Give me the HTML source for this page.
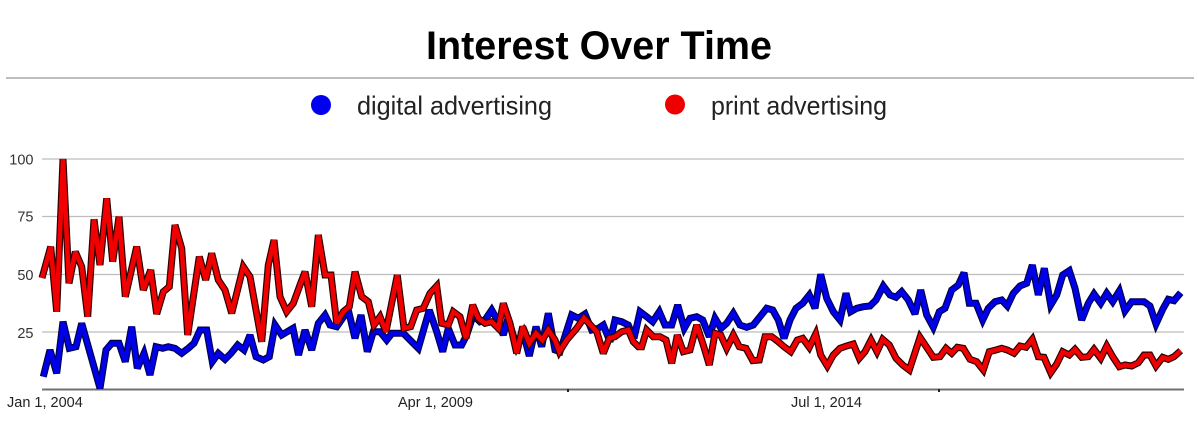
<!DOCTYPE html>
<html>
<head>
<meta charset="utf-8">
<style>
html,body{margin:0;padding:0;background:#fff;}
svg{display:block;}
text{font-family:"Liberation Sans",Arial,sans-serif;}
</style>
</head>
<body>
<svg width="1198" height="426" viewBox="0 0 1198 426" xmlns="http://www.w3.org/2000/svg">
<rect width="1198" height="426" fill="#fff"/>
<text x="599" y="59" text-anchor="middle" font-size="39.5" font-weight="bold" fill="#000" textLength="346" lengthAdjust="spacingAndGlyphs">Interest Over Time</text>
<line x1="6" y1="78" x2="1194" y2="78" stroke="#a8a8a8" stroke-width="1.5"/>
<circle cx="321" cy="105" r="10" fill="#0000ee"/>
<text x="357" y="114.3" font-size="26" fill="#222" textLength="195" lengthAdjust="spacingAndGlyphs">digital advertising</text>
<circle cx="675" cy="104.5" r="10" fill="#ee0000"/>
<text x="711" y="114.3" font-size="26" fill="#222" textLength="176" lengthAdjust="spacingAndGlyphs">print advertising</text>

<g stroke="#bdbdbd" stroke-width="1.3">
<line x1="42" y1="159" x2="1184" y2="159"/>
<line x1="42" y1="216.5" x2="1184" y2="216.5"/>
<line x1="42" y1="274.5" x2="1184" y2="274.5"/>
<line x1="42" y1="332" x2="1184" y2="332"/>
</g>
<line x1="42" y1="389.5" x2="1184" y2="389.5" stroke="#707070" stroke-width="2"/>
<rect x="567" y="389" width="2" height="3" fill="#222"/>
<rect x="938" y="389" width="2" height="3" fill="#222"/>

<g font-size="14.5" fill="#333" text-anchor="end">
<text x="33.5" y="164.3">100</text>
<text x="33.5" y="221.7">75</text>
<text x="33.5" y="280">50</text>
<text x="33.5" y="337.8">25</text>
</g>
<g font-size="14.5" fill="#222">
<text x="7" y="407">Jan 1, 2004</text>
<text x="398" y="407">Apr 1, 2009</text>
<text x="791" y="407">Jul 1, 2014</text>
</g>

<g fill="none" stroke-linejoin="miter" stroke-miterlimit="3">
<polyline stroke="#00004a" stroke-width="7" points="43.3,376.7 50,350 56.7,373.3 63,321.7 69.3,348.3 76,346.7 81.7,323.3 100,388.3 106,350 111.7,343.3 119,343.3 125.3,361.7 131.7,326.7 137.3,368.3 144,353.3 150,375 156,346.7 162.7,348.3 168.3,346.7 175,348.3 181.7,353.3 188.3,348.3 194,343.3 200,330 206.7,330 212.3,361.7 218.3,353.3 225,359.3 231,353.3 237.7,345 244,350 250,335 256,356.7 263.3,360 269.3,356.7 275,325 281.7,335 293,328.3 298.5,355 305,330 311.7,350 318.3,323.3 325,315 330,325 336.7,326.7 348.3,310 355,338.3 361,315 367.3,351.7 373.3,331.7 380,331.7 386.7,340 392,333.3 403.3,333.3 410,340 418.3,348.3 429.3,310 436.7,331.7 442.7,351.7 448.3,328.3 455,345 461.7,345 466.7,335 473.3,315 480,321.7 485,320 491.7,310 498.3,321.7 503.3,335 508,318 516.7,346.7 523.3,333.3 529.3,356 536,326.7 541.7,346.7 548.3,313.3 555,350 560,351.7 571.7,315 578.3,318.3 585,314 591.7,330 598.3,328.3 603.3,325 610,341.7 615,320 621.7,321.7 628.3,325 634,338.3 640,311.7 646.7,316.7 652.7,321.7 659.3,311.7 665,325 671.7,325 677.7,305 684.3,328.3 690,318.3 696.7,316.7 702.7,320 709.3,336.7 715,318.3 721,328.3 726.7,323.3 733.3,313.3 740,325 746.7,327.3 753.3,325 760,316.7 766.7,308.3 772.7,310 778.3,320 784,338.3 790,320 796,308.3 802.7,303.3 809.3,295 815,308.3 820.7,274.3 826.7,298.3 833.3,311.7 840,320 846,293.3 850.7,311.7 856.7,308.3 863.3,306.7 870,306 876,300 883.3,286 890,295 896,297.3 901.7,291.7 908.3,300 915,314 920.7,290 926.7,315 933.3,327.3 939.3,311.7 945,308.3 951.7,290 958.3,285 964,272.7 969.3,303.3 976,303.3 982.7,320 988.3,308.3 995,301.7 1001.7,300 1007.3,306 1013.3,293.3 1020,286 1026.7,283.3 1032.3,265 1038.3,295 1044.3,268.3 1050.7,305 1056.7,295 1062.7,275 1069.3,270.7 1075,288.3 1081.7,320 1088.3,303.3 1094,294 1100.7,303.3 1106.7,293.3 1112.7,301.7 1119.3,291 1125,311 1131.7,301.7 1144,301.7 1150,306 1156,324 1162.7,309.3 1168.3,299.3 1174,300.7 1180.7,292.7"/>
<polyline stroke="#0000e8" stroke-width="4.6" points="43.3,376.7 50,350 56.7,373.3 63,321.7 69.3,348.3 76,346.7 81.7,323.3 100,388.3 106,350 111.7,343.3 119,343.3 125.3,361.7 131.7,326.7 137.3,368.3 144,353.3 150,375 156,346.7 162.7,348.3 168.3,346.7 175,348.3 181.7,353.3 188.3,348.3 194,343.3 200,330 206.7,330 212.3,361.7 218.3,353.3 225,359.3 231,353.3 237.7,345 244,350 250,335 256,356.7 263.3,360 269.3,356.7 275,325 281.7,335 293,328.3 298.5,355 305,330 311.7,350 318.3,323.3 325,315 330,325 336.7,326.7 348.3,310 355,338.3 361,315 367.3,351.7 373.3,331.7 380,331.7 386.7,340 392,333.3 403.3,333.3 410,340 418.3,348.3 429.3,310 436.7,331.7 442.7,351.7 448.3,328.3 455,345 461.7,345 466.7,335 473.3,315 480,321.7 485,320 491.7,310 498.3,321.7 503.3,335 508,318 516.7,346.7 523.3,333.3 529.3,356 536,326.7 541.7,346.7 548.3,313.3 555,350 560,351.7 571.7,315 578.3,318.3 585,314 591.7,330 598.3,328.3 603.3,325 610,341.7 615,320 621.7,321.7 628.3,325 634,338.3 640,311.7 646.7,316.7 652.7,321.7 659.3,311.7 665,325 671.7,325 677.7,305 684.3,328.3 690,318.3 696.7,316.7 702.7,320 709.3,336.7 715,318.3 721,328.3 726.7,323.3 733.3,313.3 740,325 746.7,327.3 753.3,325 760,316.7 766.7,308.3 772.7,310 778.3,320 784,338.3 790,320 796,308.3 802.7,303.3 809.3,295 815,308.3 820.7,274.3 826.7,298.3 833.3,311.7 840,320 846,293.3 850.7,311.7 856.7,308.3 863.3,306.7 870,306 876,300 883.3,286 890,295 896,297.3 901.7,291.7 908.3,300 915,314 920.7,290 926.7,315 933.3,327.3 939.3,311.7 945,308.3 951.7,290 958.3,285 964,272.7 969.3,303.3 976,303.3 982.7,320 988.3,308.3 995,301.7 1001.7,300 1007.3,306 1013.3,293.3 1020,286 1026.7,283.3 1032.3,265 1038.3,295 1044.3,268.3 1050.7,305 1056.7,295 1062.7,275 1069.3,270.7 1075,288.3 1081.7,320 1088.3,303.3 1094,294 1100.7,303.3 1106.7,293.3 1112.7,301.7 1119.3,291 1125,311 1131.7,301.7 1144,301.7 1150,306 1156,324 1162.7,309.3 1168.3,299.3 1174,300.7 1180.7,292.7"/>

<polyline stroke="#2a0000" stroke-width="7" points="42,278 50.7,246.7 56.7,311.7 63,159 69,283.3 75.3,251.7 81.7,266.7 87.7,316.7 94,219.3 100,265 106.7,198.3 112.7,261.7 119,216.7 125.3,296.7 136.7,246.7 143.3,290 150.7,270 156.7,314 163.3,291.7 169.3,286.7 175,225 181.7,248.3 187.7,335 199.3,256.7 205.7,280 211.7,253.3 218.3,280 225,290 231.7,313.3 243.3,266.7 250,276.7 261.7,341.7 268.3,265 274,240 280,296.7 286.7,311.7 293.3,303.3 300,285 305,271.7 311.7,306.7 318.3,235 325,275 331,275 336.7,323.3 343.3,311.7 349.3,306.7 355,271.7 361.7,296.7 368.3,301.7 374,325 380,316.7 386,331.7 397.3,275 404,328.3 410.7,326.7 416.7,310 423.3,308.3 430,293.3 436.7,286 441.7,323.3 448.3,325 453.3,311.7 460,316.7 466,338.3 472.7,305 478.3,318.3 485,323.3 491.7,321.7 498.3,328.3 503.3,303.3 510,323.3 516.7,353.3 522.7,326.7 529.3,343.3 536,333.3 542.3,340 548.3,330 555,340 559.3,351.7 566.7,340 576.7,328.3 584,318 596.7,331.7 603.3,353.3 609.3,338.3 615,336.7 621.7,331.7 628.3,330 633.3,341.7 638.3,346.7 641.7,346.7 646.7,330 653.3,336.7 660,336.7 666,340 671.7,363.3 677.3,335 683.3,351.7 690,350 696.7,325 703.3,345 709.3,365 715,333.3 720.7,335 726.7,348.3 733.3,335 739.3,346.7 746,348.3 752.7,360.7 759.3,360 765,336.7 771.7,336.7 778.3,341.7 784,346.7 790.7,351.7 797.3,340 802.7,338.3 809.3,347.3 815.7,334 820.7,355 827.3,366 833.3,355 840,348.3 846.7,346 853.3,344 859.3,358.3 865,351.7 871,340 877,351.7 882.7,339.3 889.3,345 896,358.3 902.7,365 909.3,370 920,337.3 926.7,347.3 933.3,357.3 940,356.7 946,348.3 951.7,353.3 957.3,347.3 963.3,348.3 970,359.3 976.7,361.7 983.3,370 989.3,351.7 996,350 1001.7,348.3 1007.3,350 1014,353.3 1020,346 1026,347.3 1032.3,339.3 1038.3,356.7 1044,357.3 1050.7,372.7 1056.7,364 1062.7,351.7 1069.3,355 1075,349.3 1081.7,357.3 1088.3,356.7 1094,349.3 1100.7,358.3 1106.7,346 1112.7,356.7 1119.3,366.7 1125,365 1131.7,366 1138.3,362.7 1144,355 1150,355 1156,366 1162.7,357.3 1168.3,359.3 1174,356.7 1180.7,350.7"/>
<polyline stroke="#f00000" stroke-width="4.6" points="42,278 50.7,246.7 56.7,311.7 63,159 69,283.3 75.3,251.7 81.7,266.7 87.7,316.7 94,219.3 100,265 106.7,198.3 112.7,261.7 119,216.7 125.3,296.7 136.7,246.7 143.3,290 150.7,270 156.7,314 163.3,291.7 169.3,286.7 175,225 181.7,248.3 187.7,335 199.3,256.7 205.7,280 211.7,253.3 218.3,280 225,290 231.7,313.3 243.3,266.7 250,276.7 261.7,341.7 268.3,265 274,240 280,296.7 286.7,311.7 293.3,303.3 300,285 305,271.7 311.7,306.7 318.3,235 325,275 331,275 336.7,323.3 343.3,311.7 349.3,306.7 355,271.7 361.7,296.7 368.3,301.7 374,325 380,316.7 386,331.7 397.3,275 404,328.3 410.7,326.7 416.7,310 423.3,308.3 430,293.3 436.7,286 441.7,323.3 448.3,325 453.3,311.7 460,316.7 466,338.3 472.7,305 478.3,318.3 485,323.3 491.7,321.7 498.3,328.3 503.3,303.3 510,323.3 516.7,353.3 522.7,326.7 529.3,343.3 536,333.3 542.3,340 548.3,330 555,340 559.3,351.7 566.7,340 576.7,328.3 584,318 596.7,331.7 603.3,353.3 609.3,338.3 615,336.7 621.7,331.7 628.3,330 633.3,341.7 638.3,346.7 641.7,346.7 646.7,330 653.3,336.7 660,336.7 666,340 671.7,363.3 677.3,335 683.3,351.7 690,350 696.7,325 703.3,345 709.3,365 715,333.3 720.7,335 726.7,348.3 733.3,335 739.3,346.7 746,348.3 752.7,360.7 759.3,360 765,336.7 771.7,336.7 778.3,341.7 784,346.7 790.7,351.7 797.3,340 802.7,338.3 809.3,347.3 815.7,334 820.7,355 827.3,366 833.3,355 840,348.3 846.7,346 853.3,344 859.3,358.3 865,351.7 871,340 877,351.7 882.7,339.3 889.3,345 896,358.3 902.7,365 909.3,370 920,337.3 926.7,347.3 933.3,357.3 940,356.7 946,348.3 951.7,353.3 957.3,347.3 963.3,348.3 970,359.3 976.7,361.7 983.3,370 989.3,351.7 996,350 1001.7,348.3 1007.3,350 1014,353.3 1020,346 1026,347.3 1032.3,339.3 1038.3,356.7 1044,357.3 1050.7,372.7 1056.7,364 1062.7,351.7 1069.3,355 1075,349.3 1081.7,357.3 1088.3,356.7 1094,349.3 1100.7,358.3 1106.7,346 1112.7,356.7 1119.3,366.7 1125,365 1131.7,366 1138.3,362.7 1144,355 1150,355 1156,366 1162.7,357.3 1168.3,359.3 1174,356.7 1180.7,350.7"/>
</g>
</svg>
</body>
</html>
